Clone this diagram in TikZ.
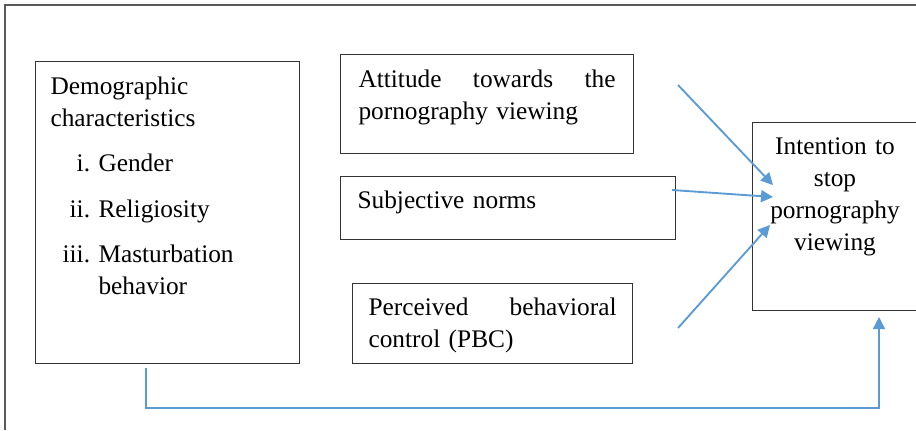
\documentclass[tikz,border=0pt]{standalone}
\usepackage{fontspec}
\setmainfont{Liberation Serif}
\usetikzlibrary{arrows.meta,calc}
\definecolor{arrowblue}{HTML}{5B9BD5}
\definecolor{framegray}{HTML}{595959}
\definecolor{boxgray}{HTML}{333333}

\newcommand{\itm}[2]{\makebox[36pt][r]{#1\ }#2}

\begin{document}
\begin{tikzpicture}[x=0.75pt,y=-0.75pt,
      box/.style={draw=boxgray,line width=0.8pt,anchor=north west,inner ysep=0pt,align=left,
        font=\fontsize{19pt}{24pt}\selectfont,text height=24pt},
      link/.style={arrowblue,line width=1.4pt,-{Triangle[length=9pt,width=9pt]}}]
    \useasboundingbox (0,0) rectangle (916,430);
    \draw[framegray,line width=0.8pt] (5,430) -- (5,5) -- (916,5);
    \node[box,inner xsep=11.25pt,text width=175.5pt,text height=24.75pt,text depth=201.75pt] (demo) at (35,61)
      {Demographic\\characteristics\\[10pt]\itm{i.}{Gender}\\[10pt]\itm{ii.}{Religiosity}\\[10pt]\itm{iii.}{Masturbation}\\\hspace*{36pt}behavior};
    \node[box,inner xsep=13.5pt,text width=192.75pt,text height=24.75pt,text depth=49.5pt] (att) at (340,54)
      {Attitude\hfill towards\hfill the\\pornography viewing};
    \node[box,inner xsep=12.75pt,text width=225.75pt,text depth=23.25pt] (sn) at (340,176)
      {Subjective norms};
    \node[box,inner xsep=12pt,text width=186pt,text depth=36pt] (pbc) at (352,283)
      {Perceived\hfill behavioral\\control (PBC)};
    \node[box,inner xsep=0pt,text width=123.75pt,align=center,text depth=117pt] (int) at (752,122)
      {Intention to\\stop\\pornography\\viewing};
    % arrow ends
    \coordinate (att-out) at (678,85);
    \coordinate (sn-out) at (672,190);
    \coordinate (pbc-out) at (678,328);
    \coordinate (int-in1) at (773,185);
    \coordinate (int-in2) at (773,197);
    \coordinate (int-in3) at (770,225);
    \coordinate (demo-out) at (146,368);
    \coordinate (bend) at (879,408);
    \coordinate (int-low) at (879,317);
    \draw[link] (att-out) -- (int-in1);
    \draw[link] (sn-out) -- (int-in2);
    \draw[link] (pbc-out) -- (int-in3);
    \draw[link,line width=1pt] (demo-out) |- (bend) -- (int-low);
  \end{tikzpicture}
\end{document}
